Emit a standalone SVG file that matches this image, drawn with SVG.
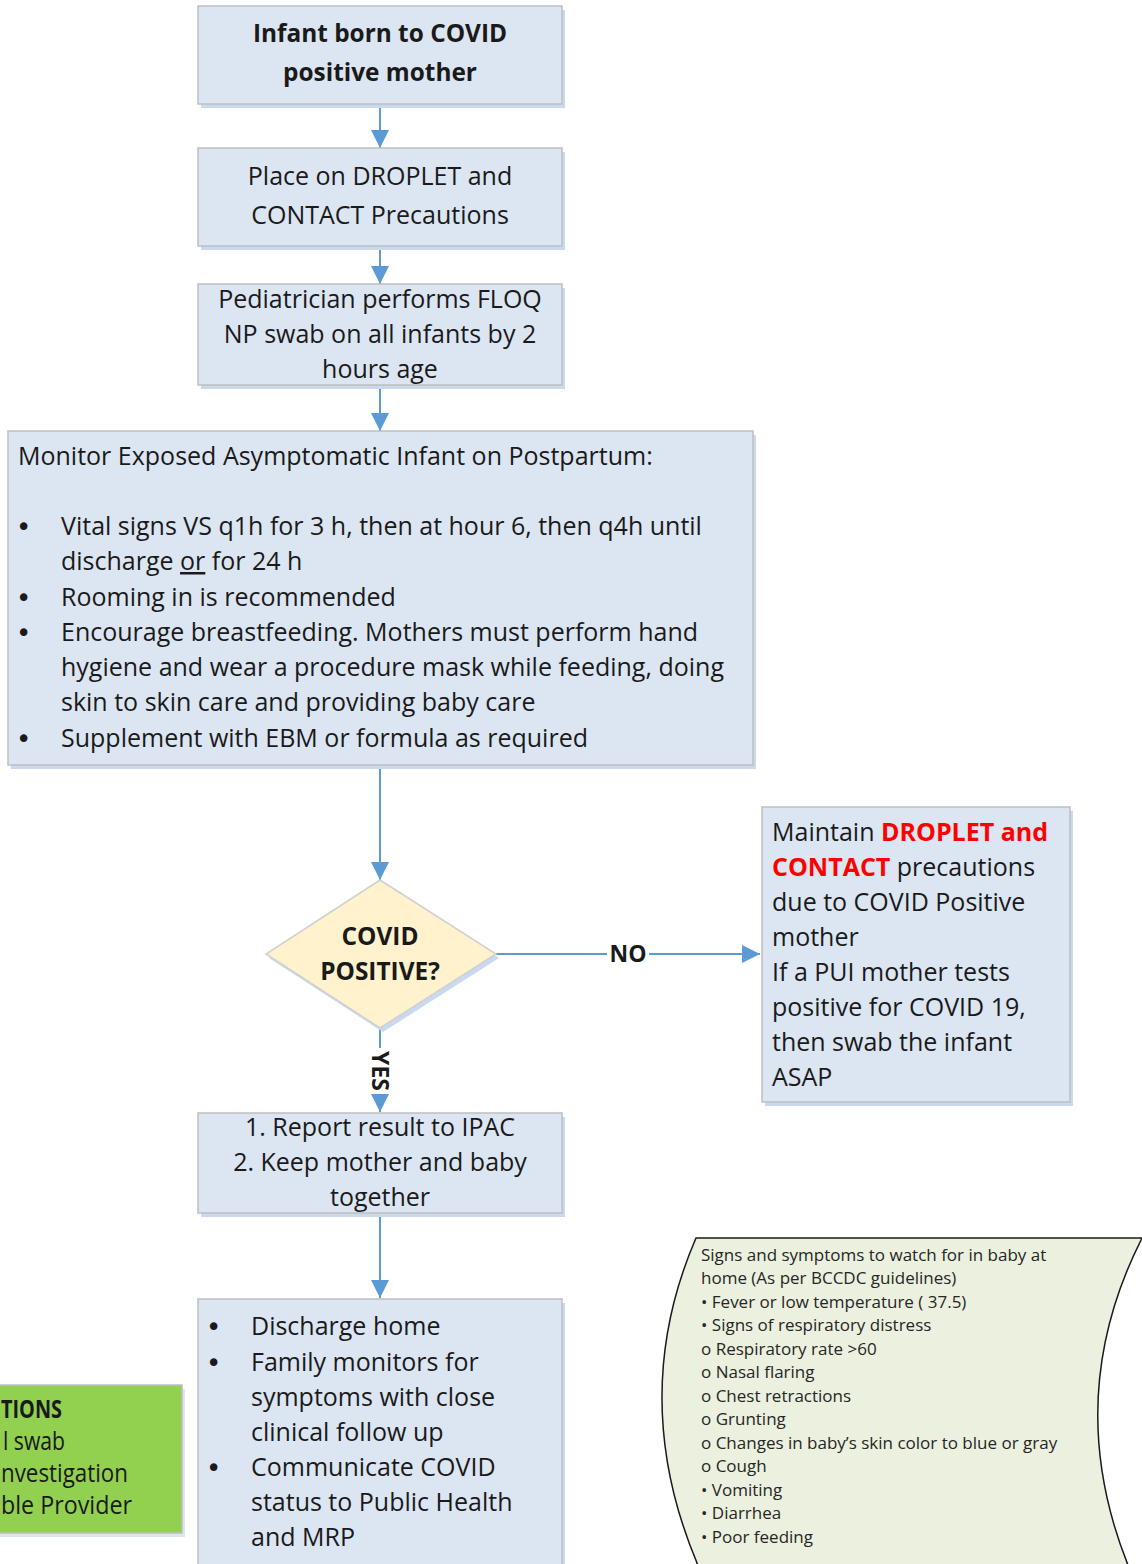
<svg xmlns="http://www.w3.org/2000/svg" width="1142" height="1564" viewBox="0 0 1142 1564">
<defs>
<style>
.box{fill:#dce6f2;stroke:#bfbfbf;stroke-width:1.5}
.sh{fill:#c9daf0}
.t{font-family:"Open Sans","Noto Sans",sans-serif;font-size:25px;fill:#1a1a1a}
.c{text-anchor:middle}
.b{font-weight:bold}
.bb{font-weight:bold;font-size:24.4px}
.bu{font-family:"DejaVu Sans",sans-serif;font-size:26px;fill:#1a1a1a}
.s{font-family:"Open Sans","Noto Sans",sans-serif;font-size:17px;fill:#262626}
.ln{stroke:#5b9bd5;stroke-width:2;fill:none}
.red{fill:#ff0000;font-weight:bold}
</style>
<marker id="a" viewBox="0 0 18 18" refX="18" refY="9" markerWidth="18" markerHeight="18" markerUnits="userSpaceOnUse" orient="auto">
<path d="M0,0 L18,9 L0,18 z" fill="#5b9bd5"/>
</marker>
</defs>
<rect width="1142" height="1564" fill="#ffffff"/>

<g id="connectors">
<line class="ln" x1="380" y1="104" x2="380" y2="148" marker-end="url(#a)"/>
<line class="ln" x1="380" y1="246" x2="380" y2="284" marker-end="url(#a)"/>
<line class="ln" x1="380" y1="385" x2="380" y2="431" marker-end="url(#a)"/>
<line class="ln" x1="380" y1="765" x2="380" y2="880" marker-end="url(#a)"/>
<line class="ln" x1="496" y1="954" x2="760" y2="954" marker-end="url(#a)"/>
<line class="ln" x1="380" y1="1028" x2="380" y2="1112" marker-end="url(#a)"/>
<line class="ln" x1="380" y1="1213" x2="380" y2="1298" marker-end="url(#a)"/>
<rect x="607" y="940" width="42" height="28" fill="#ffffff"/>
<text class="t b" style="font-size:23px" x="628" y="962" text-anchor="middle">NO</text>
<rect x="366" y="1048" width="28" height="46" fill="#ffffff"/>
<text class="t b" style="font-size:23px" transform="translate(372,1071) rotate(90)" text-anchor="middle">YES</text>
</g>

<g id="n1">
<rect class="sh" x="201" y="10" width="364" height="98"/>
<rect class="box" x="198" y="6" width="364" height="98"/>
<text class="t c bb" x="380" y="42">Infant born to COVID</text>
<text class="t c bb" x="380" y="81">positive mother</text>
</g>

<g id="n2">
<rect class="sh" x="201" y="152" width="364" height="98"/>
<rect class="box" x="198" y="148" width="364" height="98"/>
<text class="t c" x="380" y="185">Place on DROPLET and</text>
<text class="t c" x="380" y="224">CONTACT Precautions</text>
</g>

<g id="n3">
<rect class="sh" x="201" y="288" width="364" height="101"/>
<rect class="box" x="198" y="284" width="364" height="101"/>
<text class="t c" x="380" y="308">Pediatrician performs FLOQ</text>
<text class="t c" x="380" y="343">NP swab on all infants by 2</text>
<text class="t c" x="380" y="378">hours age</text>
</g>

<g id="n4">
<rect class="sh" x="11" y="435" width="745" height="334"/>
<rect class="box" x="8" y="431" width="745" height="334"/>
<text class="t" x="18" y="465">Monitor Exposed Asymptomatic Infant on Postpartum:</text>
<text class="bu" x="16" y="536">•</text><text class="t" x="61" y="535">Vital signs VS q1h for 3 h, then at hour 6, then q4h until</text>
<text class="t" x="61" y="570">discharge <tspan text-decoration="underline">or</tspan> for 24 h</text>
<text class="bu" x="16" y="607">•</text><text class="t" x="61" y="606">Rooming in is recommended</text>
<text class="bu" x="16" y="642">•</text><text class="t" x="61" y="641">Encourage breastfeeding.  Mothers must perform hand</text>
<text class="t" x="61" y="676">hygiene and wear a procedure mask while feeding, doing</text>
<text class="t" x="61" y="711">skin to skin care and providing baby care</text>
<text class="bu" x="16" y="748">•</text><text class="t" x="61" y="747">Supplement with EBM or formula as required</text>
</g>

<g id="n5">
<path d="M383,884 L499,958 L383,1032 L269,958 Z" fill="#c9daf0"/>
<path d="M380,880 L496,954 L380,1028 L266,954 Z" fill="#fff2cc" stroke="#d0d0d0" stroke-width="1.5"/>
<text class="t c bb" x="380" y="945">COVID</text>
<text class="t c bb" x="380" y="980">POSITIVE?</text>
</g>

<g id="n6">
<rect class="sh" x="765" y="811" width="308" height="295"/>
<rect class="box" x="762" y="807" width="308" height="295"/>
<text class="t" x="772" y="841">Maintain <tspan class="red">DROPLET and</tspan></text>
<text class="t" x="772" y="876"><tspan class="red">CONTACT</tspan> precautions</text>
<text class="t" x="772" y="911">due to COVID Positive</text>
<text class="t" x="772" y="946">mother</text>
<text class="t" x="772" y="981">If a PUI mother tests</text>
<text class="t" x="772" y="1016">positive for COVID 19,</text>
<text class="t" x="772" y="1051">then swab the infant</text>
<text class="t" x="772" y="1086">ASAP</text>
</g>

<g id="n7">
<rect class="sh" x="201" y="1117" width="364" height="100"/>
<rect class="box" x="198" y="1113" width="364" height="100"/>
<text class="t c" x="380" y="1136">1. Report result to IPAC</text>
<text class="t c" x="380" y="1171">2. Keep mother and baby</text>
<text class="t c" x="380" y="1206">together</text>
</g>

<g id="n8">
<rect class="sh" x="201" y="1303" width="364" height="270"/>
<rect class="box" x="198" y="1299" width="364" height="270"/>
<text class="bu" x="206" y="1336">•</text><text class="t" x="251" y="1335">Discharge home</text>
<text class="bu" x="206" y="1372">•</text><text class="t" x="251" y="1371">Family monitors for</text>
<text class="t" x="251" y="1406">symptoms with close</text>
<text class="t" x="251" y="1441">clinical follow up</text>
<text class="bu" x="206" y="1477">•</text><text class="t" x="251" y="1476">Communicate COVID</text>
<text class="t" x="251" y="1511">status to Public Health</text>
<text class="t" x="251" y="1546">and MRP</text>
</g>

<g id="n9">
<rect x="-10" y="1389" width="195" height="148" fill="#dce6f2"/>
<rect x="-10" y="1385" width="192" height="148" fill="#92d050" stroke="#bfbfbf" stroke-width="1.5"/>
<text class="t bb" x="1" y="1418" textLength="61" lengthAdjust="spacingAndGlyphs">TIONS</text>
<text class="t" x="3" y="1450" textLength="62" lengthAdjust="spacingAndGlyphs">l swab</text>
<text class="t" x="1" y="1482" textLength="127" lengthAdjust="spacingAndGlyphs">nvestigation</text>
<text class="t" x="1" y="1514" textLength="131" lengthAdjust="spacingAndGlyphs">ble Provider</text>
</g>

<g id="n10">
<path d="M696,1238 L1142,1238 Q1060,1400 1130,1570 L700,1570 Q626,1400 696,1238 Z" fill="#ebf1de" stroke="#1a1a1a" stroke-width="1.5"/>
<text class="s" x="701" y="1261">Signs and symptoms to watch for in baby at</text>
<text class="s" x="701" y="1284">home (As per BCCDC guidelines)</text>
<text class="s" x="701" y="1308">• Fever or low temperature ( 37.5)</text>
<text class="s" x="701" y="1331">• Signs of respiratory distress</text>
<text class="s" x="701" y="1355">o Respiratory rate &gt;60</text>
<text class="s" x="701" y="1378">o Nasal flaring</text>
<text class="s" x="701" y="1402">o Chest retractions</text>
<text class="s" x="701" y="1425">o Grunting</text>
<text class="s" x="701" y="1449">o Changes in baby’s skin color to blue or gray</text>
<text class="s" x="701" y="1472">o Cough</text>
<text class="s" x="701" y="1496">• Vomiting</text>
<text class="s" x="701" y="1519">• Diarrhea</text>
<text class="s" x="701" y="1543">• Poor feeding</text>
</g>
</svg>
